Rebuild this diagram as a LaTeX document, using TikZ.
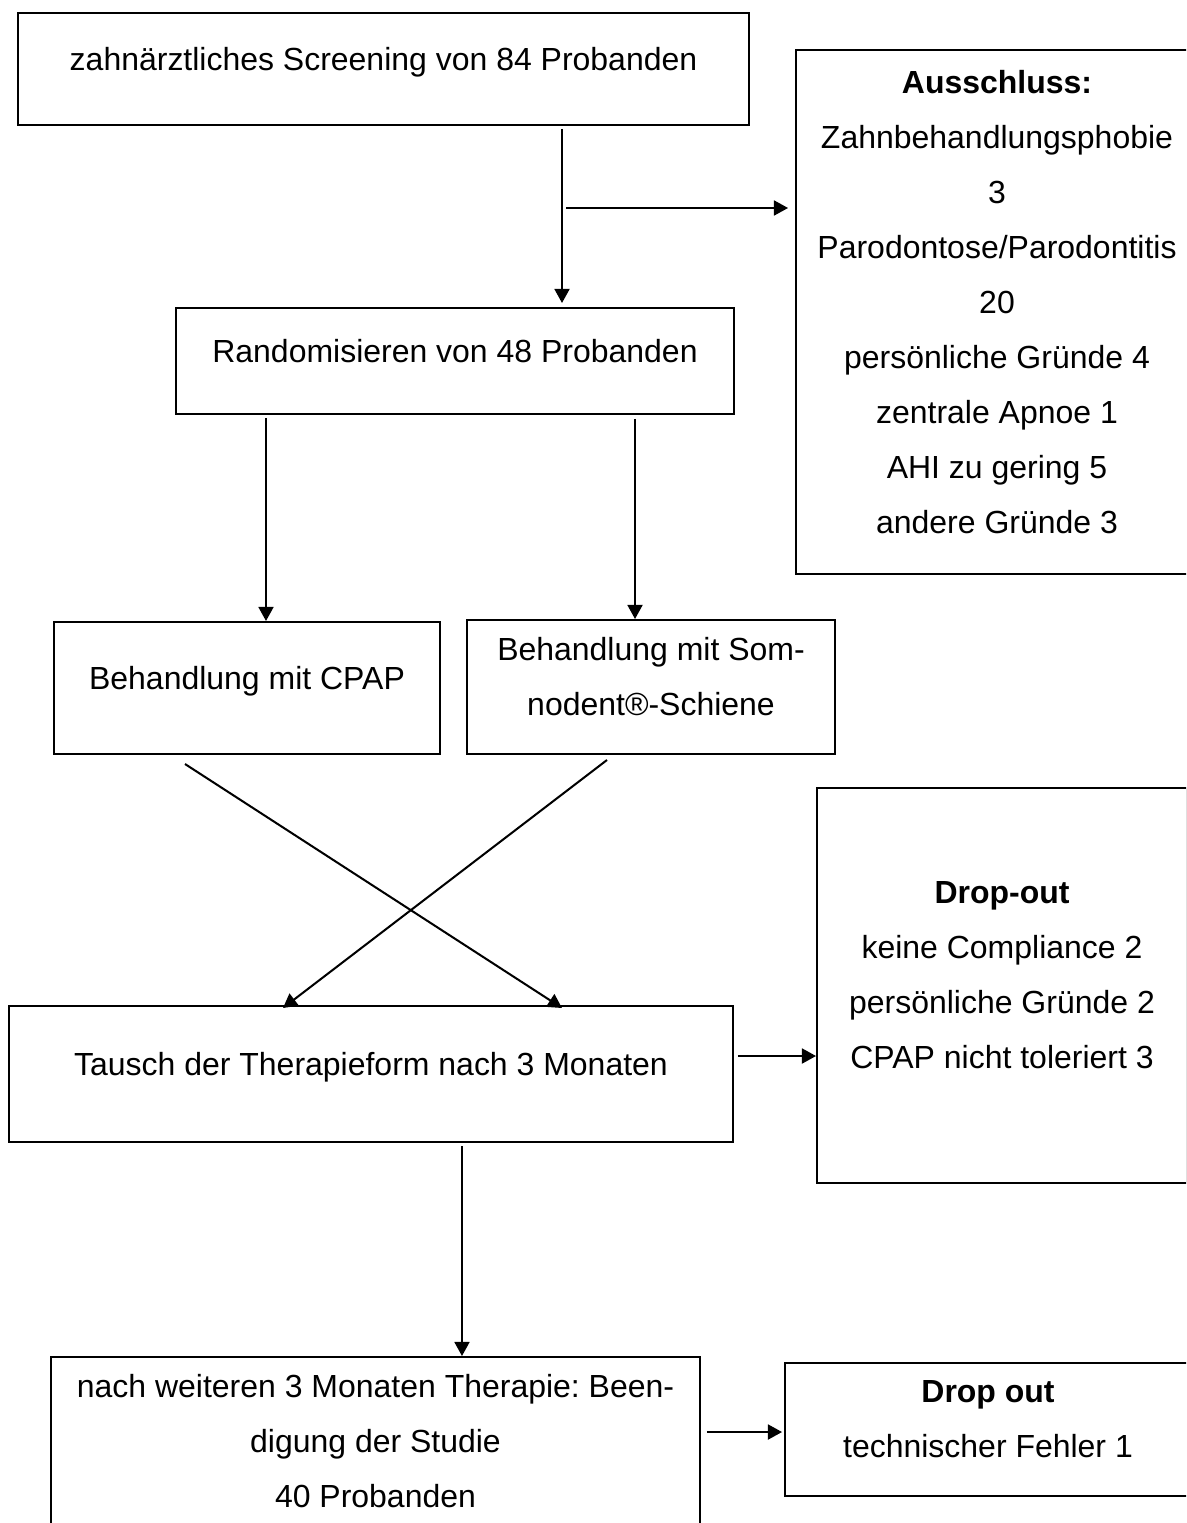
\documentclass[tikz,border=0pt]{standalone}
\usepackage{fontspec}
\setmainfont{Liberation Sans}
\usetikzlibrary{arrows.meta,calc}
\frenchspacing
\begin{document}
\begin{tikzpicture}[x=0.02cm,y=-0.02cm,line width=1.15pt]
                \tikzset{box/.style = {shape=rectangle,draw,align=center,inner sep=0pt,text depth=12pt,font=\fontsize{18.2}{31.3}\selectfont}}
                \tikzset{edge/.style = {-{Triangle[length=8pt,width=8.5pt]}}}
                \useasboundingbox (0,0) rectangle (1186,1523);
                \clip (0,0) rectangle (1186,1523);

                \node[box, minimum width=14.62cm, minimum height=2.24cm] (screen) at (383.5,69) {zahnärztliches Screening von 84 Probanden};
                \node[box, minimum width=8.04cm, minimum height=10.48cm] (ausschluss) at (997,312) {\textbf{Ausschluss:}\\Zahnbehandlungsphobie\\3\\Parodontose/Parodontitis\\20\\persönliche Gründe 4\\zentrale Apnoe 1\\AHI zu gering 5\\andere Gründe 3};
                \node[box, minimum width=11.18cm, minimum height=2.12cm] (random) at (455,361) {Randomisieren von 48 Probanden};
                \node[box, minimum width=7.72cm, minimum height=2.64cm] (cpap) at (247,688) {Behandlung mit CPAP};
                \node[box, minimum width=7.36cm, minimum height=2.68cm] (som) at (651,687) {Behandlung mit Som-\\nodent®-Schiene};
                \node[box, minimum width=14.48cm, minimum height=2.72cm] (tausch) at (371,1074) {Tausch der Therapieform nach 3 Monaten};
                \node[box, minimum width=7.4cm, minimum height=7.9cm] (dropout) at (1002,985.5) {\textbf{Drop-out}\\keine Compliance 2\\persönliche Gründe 2\\CPAP nicht toleriert 3};
                \node[box, minimum width=12.98cm, minimum height=3.76cm] (ende) at (375.5,1451) {nach weiteren 3 Monaten Therapie: Been-\\digung der Studie\\40 Probanden};
                \node[box, minimum width=8.12cm, minimum height=2.66cm] (dropout2) at (988,1429.5) {\textbf{Drop out}\\technischer Fehler 1};

                \coordinate (split) at (562,208);
                \coordinate (r2c) at ([xshift=0.38cm]cpap.north);
                \coordinate (r2s) at ([xshift=-0.32cm]som.north);
                \coordinate (t2d) at ([yshift=0.36cm]tausch.east);
                \coordinate (t2e) at ([xshift=1.82cm]tausch.south);
                \coordinate (e2d) at ([yshift=0.38cm]ende.east);

                \draw[edge, shorten <=0.06cm, shorten >=0.08cm] (screen.south -| split) -- (random.north -| split);
                \draw[edge, shorten <=0.08cm, shorten >=0.14cm] (split) -- (split -| ausschluss.west);

                \draw[edge, shorten <=0.06cm] (r2c |- random.south) -- (r2c);
                \draw[edge, shorten <=0.08cm] (r2s |- random.south) -- (r2s);

                \draw[edge] ($(cpap.south)+(-62,9)$) -- ($(tausch.north)+(191,3)$);
                \draw[edge] ($(som.south)+(-44,5)$) -- ($(tausch.north)+(-88,3)$);

                \draw[edge, shorten <=0.08cm] (t2d) -- (t2d -| dropout.west);
                \draw[edge, shorten <=0.06cm] (t2e) -- (t2e |- ende.north);
                \draw[edge, shorten <=0.12cm, shorten >=0.04cm] (e2d) -- (e2d -| dropout2.west);
            \end{tikzpicture}
\end{document}
